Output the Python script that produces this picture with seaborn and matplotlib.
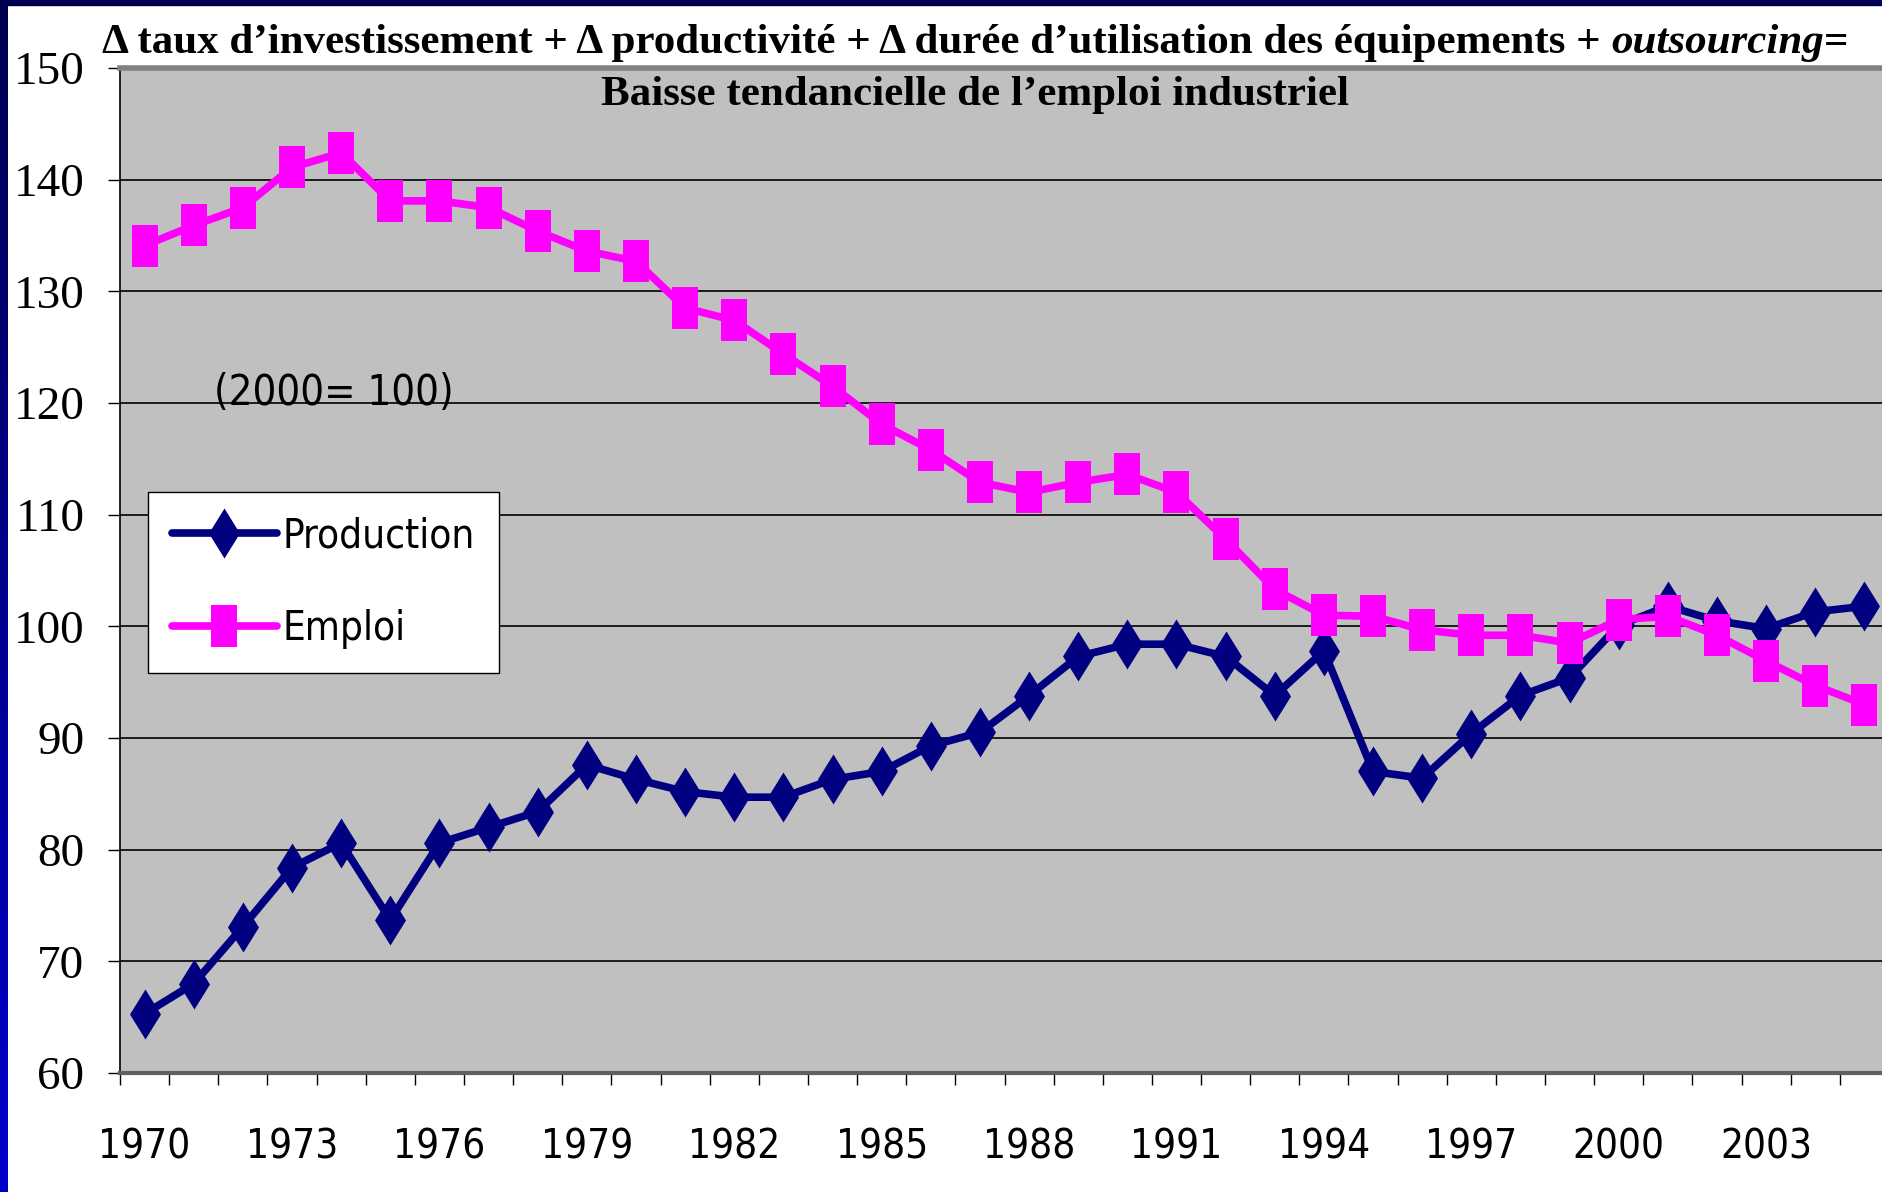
import numpy as np
import pandas as pd
import matplotlib
matplotlib.use("Agg")
import matplotlib.pyplot as plt
from matplotlib import font_manager
from matplotlib.font_manager import FontProperties
from matplotlib.path import Path
from matplotlib.patches import Rectangle
import seaborn as sns

years = list(range(1970, 2006))
production = [65.3, 68.0, 73.1, 78.4, 80.6, 73.7, 80.6, 82.0, 83.4, 87.6,
              86.3, 85.2, 84.7, 84.7, 86.3, 87.0, 89.3, 90.5, 93.8, 97.3,
              98.4, 98.4, 97.3, 93.8, 97.8, 87.0, 86.4, 90.4, 93.8, 95.4,
              100.1, 101.8, 100.5, 99.8, 101.3, 101.8]
emploi = [134.1, 135.9, 137.5, 141.1, 142.4, 138.1, 138.1, 137.5, 135.4, 133.6,
          132.7, 128.5, 127.4, 124.4, 121.5, 118.1, 115.8, 112.9, 112.0, 112.9,
          113.6, 112.0, 107.8, 103.3, 101.0, 100.9, 99.7, 99.2, 99.2, 98.5,
          100.6, 100.9, 99.2, 96.9, 94.7, 93.0]
tick_years = list(range(1970, 2004, 3))
y_ticks = list(range(60, 151, 10))

df = pd.DataFrame({"year": years, "Production": production, "Emploi": emploi})

sns.set_style("white")
plt.rcParams.update({"text.color": "black", "xtick.color": "black",
                     "ytick.color": "black", "axes.labelcolor": "black"})

# look for a condensed sans font, the original uses Arial Narrow
narrow_file = None
for f in font_manager.fontManager.ttflist:
    if "Sans" not in f.name and "Arial" not in f.name:
        continue
    if f.weight not in (400, "normal", "regular", "book") or f.style != "normal":
        continue
    if "Narrow" in f.name or "Condensed" in f.name or f.stretch in ("condensed", "semi-condensed"):
        narrow_file = f.fname
        break
if narrow_file:
    def nf(size):
        return FontProperties(fname=narrow_file, size=size)
    nscale = 1.0
else:
    def nf(size):
        return FontProperties(family="Liberation Sans", size=size)
    nscale = 0.85
serif = "Liberation Serif"

fig = plt.figure(figsize=(18.83, 11.92), dpi=100)
fig.patch.set_facecolor("white")

# frame of the slide: navy strip on top, gradient strip on the left
fig.patches.append(Rectangle((0, 1 - 5 / 1192), 1, 5 / 1192, transform=fig.transFigure,
                             color="#000050", zorder=10))
bax = fig.add_axes([0, 0, 8 / 1883, 1])
grad = np.linspace(0, 1, 256).reshape(-1, 1)
cmap = matplotlib.colors.LinearSegmentedColormap.from_list("b", ["#000050", "#0000CC"])
bax.imshow(grad, aspect="auto", cmap=cmap)
bax.axis("off")

ax = fig.add_axes([120 / 1883, 119 / 1192, 1769 / 1883, 1005 / 1192])
ax.set_facecolor("#C0C0C0")

diamond = Path([(0, 0.5), (0.31, 0), (0, -0.5), (-0.31, 0), (0, 0.5)])
rect = Path([(-0.31, -0.5), (0.31, -0.5), (0.31, 0.5), (-0.31, 0.5), (-0.31, -0.5)])
sizes = [36, 30]
lw = 5.5

sns.lineplot(data=df, x="year", y="Production", ax=ax, color="#000080",
             marker=diamond, label="Production")
sns.lineplot(data=df, x="year", y="Emploi", ax=ax, color="#FF00FF",
             marker=rect, label="Emploi")
for line, ms in zip(ax.lines, sizes):
    line.set_linewidth(lw)
    line.set_markersize(ms)
    line.set_markeredgewidth(0)
    line.set_solid_joinstyle("round")

ax.set_xlim(1969.5, 2005.5)
ax.set_ylim(60, 150)
ax.set_xlabel("")
ax.set_ylabel("")
ax.set_axisbelow(True)
ax.yaxis.grid(True, color="black", lw=1.2)
ax.xaxis.grid(False)

ax.set_yticks(y_ticks)
ax.set_yticklabels([str(v) for v in y_ticks], fontfamily=serif, fontsize=34)
ax.tick_params(axis="y", left=True, length=8.6, width=1, color="black", pad=17)

ax.set_xticks(tick_years)
ax.set_xticklabels([str(v) for v in tick_years], fontproperties=nf(29 * nscale))
ax.set_xticks(np.arange(1969.5, 2006, 1), minor=True)
ax.tick_params(axis="x", which="major", bottom=True, length=0, pad=39)
ax.tick_params(axis="x", which="minor", bottom=True, length=8.6, width=1, color="black")

ax.spines["top"].set_color("#808080")
ax.spines["top"].set_linewidth(4)
ax.spines["left"].set_color("black")
ax.spines["left"].set_linewidth(1.2)
ax.spines["bottom"].set_color("#606060")
ax.spines["bottom"].set_linewidth(3)
ax.spines["right"].set_visible(False)

leg = ax.legend(loc="upper left", bbox_to_anchor=(0.0158, 0.578), borderaxespad=0,
                prop=nf(29 * nscale), frameon=True, fancybox=False,
                framealpha=1, edgecolor="black", handlelength=2.6, handletextpad=0.15,
                labelspacing=1.3, borderpad=0.6)
leg.get_frame().set_linewidth(1)
for h, ms in zip(leg.legend_handles, sizes):
    h.set_linewidth(lw)
    h.set_markersize(ms)
    h.set_markeredgewidth(0)

ax.text(0.053, 0.677, "(2000= 100)", transform=ax.transAxes,
        fontproperties=nf(30 * nscale), va="center", ha="left")

# two-line title, first line mixes bold and bold italic
t1 = fig.text(102 / 1883, 1 - 53 / 1192,
              "\u0394 taux d\u2019investissement + \u0394 productivit\u00e9 + \u0394 dur\u00e9e "
              "d\u2019utilisation des \u00e9quipements + ",
              fontfamily=serif, fontweight="bold", fontsize=31, va="baseline", ha="left")
t2 = fig.text(0, 0, "outsourcing", fontfamily=serif, fontweight="bold", fontstyle="italic",
              fontsize=31, va="baseline", ha="left")
t3 = fig.text(0, 0, "=", fontfamily=serif, fontweight="bold", fontsize=31,
              va="baseline", ha="left")
r = fig.canvas.get_renderer()
inv = fig.transFigure.inverted()
b1 = t1.get_window_extent(r)
t2.set_position((inv.transform((b1.x1, 0))[0], t1.get_position()[1]))
b2 = t2.get_window_extent(r)
t3.set_position((inv.transform((b2.x1, 0))[0], t1.get_position()[1]))
fig.text(975 / 1883, 1 - 105 / 1192, "Baisse tendancielle de l\u2019emploi industriel",
         fontfamily=serif, fontweight="bold", fontsize=31, va="baseline", ha="center")

fig.savefig("out.png", dpi=100)
